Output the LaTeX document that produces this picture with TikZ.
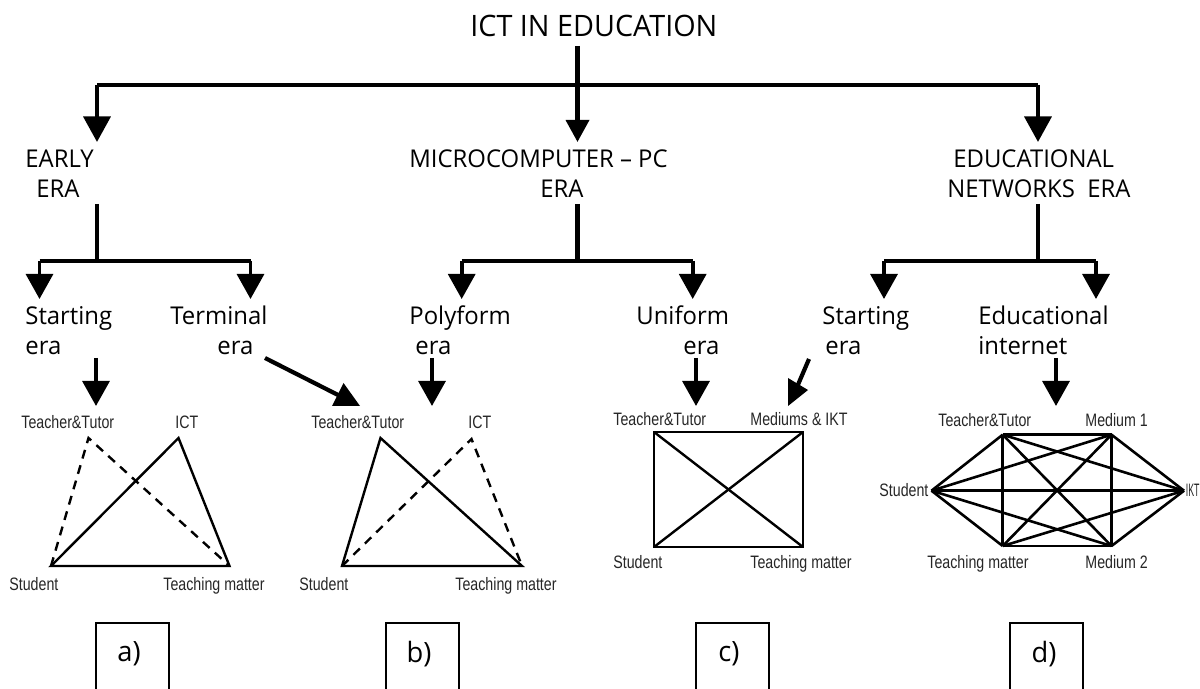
\documentclass[tikz,border=0pt]{standalone}
\usepackage{fontspec}
\setmainfont[FakeStretch=0.975]{Open Sans}
\newfontfamily\narrowfont[FakeStretch=0.79]{Liberation Sans}
\usetikzlibrary{arrows.meta}
\tikzset{
  x=0.5pt,y=-0.5pt,
  stem/.style={line width=2.1pt,black,line join=round},
  stemthin/.style={line width=1.9pt,black,line join=round},
  big/.style={stem,-{Triangle[length=12.75pt,width=13.4pt]}},
  mid/.style={stemthin,-{Triangle[length=12.5pt,width=13.4pt]}},
  topmid/.style={stem,-{Triangle[length=11pt,width=11.4pt]}},
  head/.style={fill=black,draw=none},
  title/.style={font=\fontsize{14.75}{17}\selectfont,inner sep=0pt,anchor=base west},
  era/.style={font=\fontsize{12.25}{15.25}\selectfont,inner sep=0pt,anchor=base west,align=left},
  small/.style={font=\narrowfont\fontsize{9}{11}\selectfont,inner sep=0pt,anchor=base west,text=black!85},
  solidedge/.style={line width=1.2pt,black},
  dashedge/.style={line width=1.2pt,black,dash pattern=on 4.5pt off 3.5pt},
  netedge/.style={line width=1.3pt,black},
  openbox/.style={draw=black,line width=0.85pt,minimum width=36.5pt,minimum height=40pt,inner sep=0pt},
  boxlabel/.style={font=\fontsize{14}{16}\selectfont,inner sep=0pt}
}
\begin{document}
\begin{tikzpicture}
\useasboundingbox (0,0) rectangle (1200,689);
% titles
\node[title] (title) at (470,37) {ICT IN EDUCATION};
\node[era] (early) at (25,198) {EARLY\\\hspace*{5.5pt}ERA};
\node[era] (micro) at (409,198) {MICROCOMPUTER -- PC\\\hspace*{65.5pt}ERA};
\node[era] (netw) at (947,198) {\hspace*{3pt}EDUCATIONAL\\NETWORKS\ \ ERA};
\node[era] (s1) at (25,355) {Starting\\era};
\node[era] (t1) at (170,355) {Terminal\\\hspace*{23.5pt}era};
\node[era] (p1) at (409,355) {Polyform\\\hspace*{3pt}era};
\node[era] (u1) at (636,355) {Uniform\\\hspace*{23.5pt}era};
\node[era] (s2) at (822,355) {Starting\\\hspace*{1.5pt}era};
\node[era] (e1) at (978,355) {Educational\\internet};
% tree coordinates
\coordinate (r0) at (577.5,46);
\coordinate (rj) at (577.5,85);
\coordinate (rl) at (97,85);
\coordinate (rr) at (1038,85);
\coordinate (tl) at (97,142);
\coordinate (tm) at (577.5,142);
\coordinate (tr) at (1038,142);
\draw[stem] (rl) -- (rr);
\draw[topmid] (r0) -- (tm);
\draw[big] (rl) -- (tl);
\draw[big] (rr) -- (tr);
% second level
\foreach \n/\cx/\lx/\rx in {a/97/39.5/250.5,b/577.5/461.7/692.7,c/1038/884/1096}{
  \coordinate (\n0) at (\cx,204);
  \coordinate (\n j) at (\cx,261);
  \coordinate (\n l) at (\lx,261);
  \coordinate (\n r) at (\rx,261);
  \coordinate (\n lt) at (\lx,299);
  \coordinate (\n rt) at (\rx,299);
  \draw[stem] (\n0) -- (\n j);
  \draw[stemthin] (\n l) -- (\n r);
  \draw[mid] (\n l) -- (\n lt);
  \draw[mid] (\n r) -- (\n rt);
}
% arrows into diagrams
\foreach \n/\cx in {A/96,B/432,C/696,D/1056}{
  \coordinate (\n s) at (\cx,358);
  \coordinate (\n t) at (\cx,406);
  \draw[mid] (\n s) -- (\n t);
}
\coordinate (Es) at (265,358);
\coordinate (Ee) at (342,397);
\draw[stem] (Es) -- (Ee);
\fill[head] (343.5,383) -- (332,406) -- (360,406) -- cycle;
\coordinate (Fs) at (809,359);
\coordinate (Fe) at (797,387);
\draw[stem] (Fs) -- (Fe);
\fill[head] (788,378) -- (808,390) -- (788,406) -- cycle;
% triangle a
\coordinate (aS) at (51,566);
\coordinate (aM) at (229.5,566);
\coordinate (aI) at (178.5,438);
\coordinate (aT) at (88.5,438);
\draw[solidedge] (aS) -- (aM) -- (aI) -- cycle;
\draw[dashedge] (aS) -- (aT) -- (aM);
\node[small] (aTl) at (21,429) {Teacher\&Tutor};
\node[small] (aIl) at (175,429) {ICT};
\node[small] (aSl) at (9,590) {Student};
\node[small] (aMl) at (163,590) {Teaching matter};
% triangle b
\coordinate (bS) at (342,566);
\coordinate (bM) at (522,566);
\coordinate (bT) at (380.5,438);
\coordinate (bI) at (471.5,439);
\draw[solidedge] (bS) -- (bM) -- (bT) -- cycle;
\draw[dashedge] (bS) -- (bI) -- (bM);
\node[small] (bTl) at (311,429) {Teacher\&Tutor};
\node[small] (bIl) at (468,429) {ICT};
\node[small] (bSl) at (299,590) {Student};
\node[small] (bMl) at (455,590) {Teaching matter};
% square c
\coordinate (cT) at (654,432);
\coordinate (cI) at (803,432);
\coordinate (cS) at (654,547);
\coordinate (cM) at (803,547);
\draw[solidedge] (cT) -- (cI) -- (cM) -- (cS) -- cycle;
\draw[solidedge] (cT) -- (cM);
\draw[solidedge] (cI) -- (cS);
\node[small] (cTl) at (613,426) {Teacher\&Tutor};
\node[small] (cIl) at (750,426) {Mediums \& IKT};
\node[small] (cSl) at (613,568) {Student};
\node[small] (cMl) at (750,568) {Teaching matter};
% network d
\coordinate (d1) at (931.5,490.7);
\coordinate (d2) at (1002.7,434.7);
\coordinate (d3) at (1111.5,434.7);
\coordinate (d4) at (1184,490.7);
\coordinate (d5) at (1111.5,546);
\coordinate (d6) at (1002.7,546);
\foreach \u/\v in {1/2,1/3,1/4,1/5,1/6,2/3,2/4,2/5,2/6,3/4,3/5,3/6,4/5,4/6,5/6}{
  \draw[netedge] (d\u) -- (d\v);
}
\node[small] (dTl) at (938,427) {Teacher\&Tutor};
\node[small] (dM1) at (1085,427) {Medium 1};
\node[small] (dSl) at (879,497) {Student};
\node[small] (dIl) at (1185.5,497) {\scalebox{0.62}[1]{IKT}};
\node[small] (dMl) at (927,568) {Teaching matter};
\node[small] (dM2) at (1085,568) {Medium 2};
% bottom boxes
\node[openbox] (boxa) at (132.5,663) {};
\node[openbox] (boxb) at (422.25,663) {};
\node[openbox] (boxc) at (732.5,663) {};
\node[openbox] (boxd) at (1046.5,663) {};
\node[boxlabel] (la) at (129,654) {a)};
\node[boxlabel] (lb) at (419,654) {b)};
\node[boxlabel] (lc) at (729,654) {c)};
\node[boxlabel] (ld) at (1044,654) {d)};
\end{tikzpicture}
\end{document}
